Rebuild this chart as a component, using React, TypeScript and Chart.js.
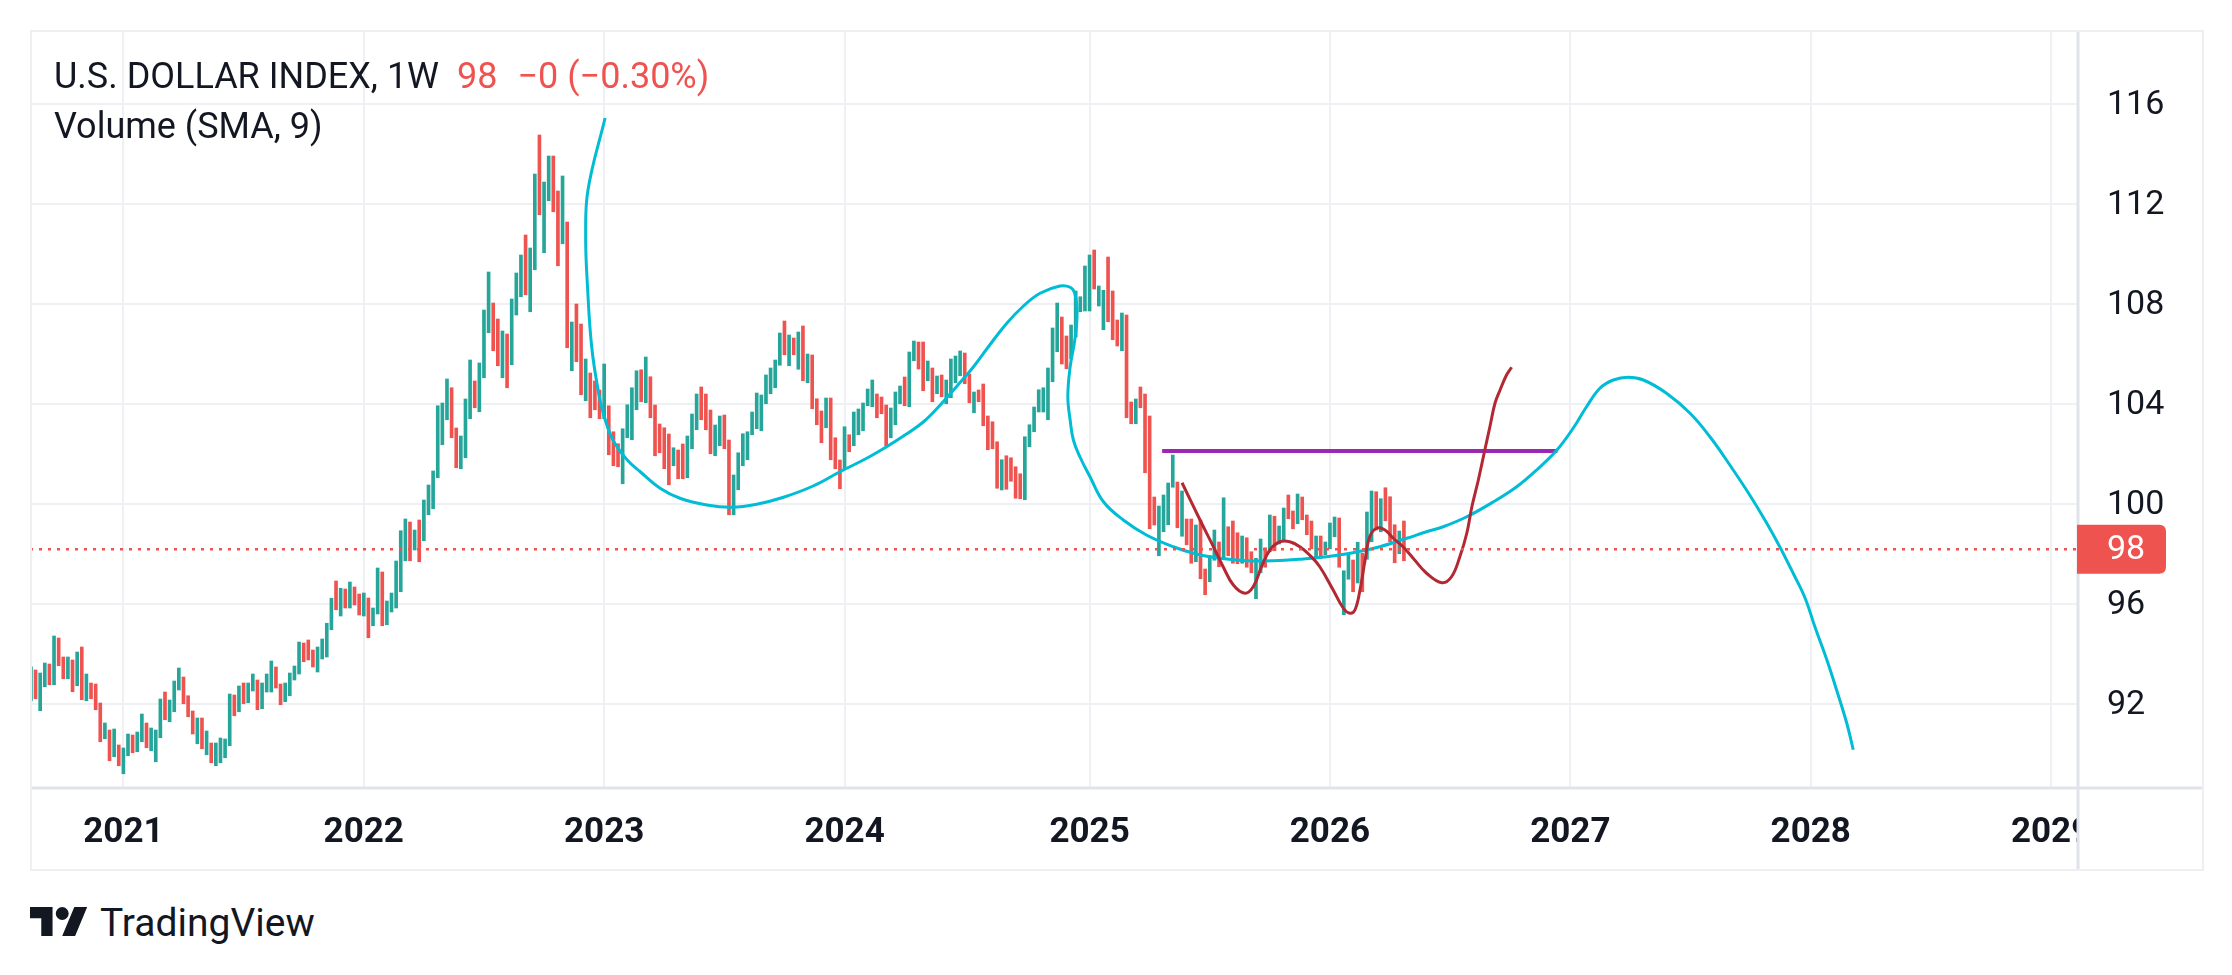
import React, { useEffect, useRef } from "react";
import { Chart, registerables } from "chart.js";

Chart.register(...registerables);

// ---------- DATA ----------
const symbolName = "U.S. DOLLAR INDEX, 1W";
const lastLabel = "98";
const changeLabel = "\u22120 (\u22120.30%)";
const indicatorLabel = "Volume (SMA, 9)";
const lastClose = 98.19;

// x unit: weekly bar index (week 0 = week of 17 Aug 2020)
const yearWeeks = [20, 72, 124, 176, 229, 281, 333, 385, 437];
const yearLabels = ["2021", "2022", "2023", "2024", "2025", "2026", "2027", "2028", "2029"];
const priceTicks = [92, 96, 100, 104, 108, 112, 116];

const weekHigh = [
  93.49, 93.36, 93.24, 93.64, 93.6, 94.72, 94.64, 93.88, 93.88, 93.76,
  94.08, 94.28, 93.2, 92.84, 92.8, 92.04, 91.24, 90.96, 91.0, 90.36,
  90.24, 90.8, 90.76, 90.88, 91.6, 91.24, 91.04, 90.96, 92.2, 92.48,
  92.16, 92.92, 93.44, 93.08, 92.33, 91.72, 91.44, 91.44, 90.92, 90.44,
  90.44, 90.64, 90.6, 92.4, 92.36, 92.72, 92.84, 92.84, 93.2, 92.96,
  92.84, 93.2, 93.72, 93.48, 92.8, 92.84, 93.24, 93.52, 94.48, 94.44,
  94.56, 94.16, 94.28, 94.6, 95.23, 96.23, 96.92, 96.63, 96.6, 96.88,
  96.68, 96.4, 96.44, 96.24, 95.84, 97.44, 97.28, 96.12, 96.44, 97.72,
  98.93, 99.4, 99.28, 98.96, 99.36, 100.16, 100.76, 101.32, 103.93, 104.04,
  105.0, 104.65, 103.04, 102.72, 104.2, 105.76, 104.92, 105.64, 107.76, 109.28,
  108.04, 107.4, 106.92, 106.8, 108.2, 109.24, 109.96, 110.76, 110.24, 113.2,
  114.76, 112.88, 113.92, 113.92, 112.52, 113.12, 111.28, 107.28, 108.0, 107.2,
  105.8, 105.24, 104.92, 104.56, 105.6, 103.93, 102.89, 102.41, 103.01, 103.97,
  104.65, 105.33, 105.37, 105.88, 105.09, 103.96, 103.2, 103.05, 102.8, 102.25,
  102.16, 102.4, 102.72, 103.6, 104.4, 104.68, 104.4, 103.76, 103.16, 103.52,
  103.56, 102.56, 101.16, 102.05, 102.81, 102.89, 103.68, 104.44, 104.36, 105.16,
  105.44, 105.76, 106.84, 107.32, 106.76, 106.64, 106.88, 107.12, 106.0, 105.96,
  104.21, 103.72, 104.24, 104.24, 102.65, 101.76, 103.09, 102.77, 103.68, 103.8,
  104.04, 104.6, 104.96, 104.4, 104.28, 103.96, 103.84, 104.48, 104.72, 105.08,
  106.08, 106.52, 106.48, 106.48, 105.72, 105.44, 105.12, 105.16, 104.96, 105.8,
  105.92, 106.12, 106.04, 105.2, 104.48, 104.56, 104.8, 103.52, 103.29, 102.49,
  101.77, 101.93, 101.85, 101.49, 101.21, 102.69, 103.17, 103.88, 104.57, 104.65,
  105.44, 107.04, 108.04, 107.48, 106.72, 107.16, 108.52, 108.29, 109.52, 109.96,
  110.16, 108.72, 108.55, 109.88, 108.52, 107.36, 107.64, 107.56, 104.08, 104.2,
  104.68, 104.4, 103.52, 100.28, 99.92, 100.36, 100.84, 101.96, 100.88, 100.52,
  99.4, 99.4, 99.16, 99.36, 97.4, 97.93, 98.96, 98.48, 100.25, 99.09,
  99.32, 98.85, 98.72, 98.65, 98.09, 97.83, 98.6, 98.25, 99.56, 99.51,
  99.12, 99.84, 100.36, 99.72, 100.4, 100.28, 99.56, 99.32, 98.72, 98.72,
  98.48, 99.24, 99.48, 99.44, 97.33, 97.99, 97.76, 98.47, 98.03, 99.68,
  100.52, 100.49, 100.21, 100.65, 100.29, 99.17, 98.92, 99.32,
];

const weekLow = [
  92.13, 92.21, 91.73, 92.69, 92.77, 92.77, 93.53, 93.01, 93.01, 92.49,
  92.73, 92.17, 92.13, 92.21, 91.77, 90.49, 90.61, 89.73, 89.89, 89.53,
  89.21, 89.93, 90.05, 90.09, 90.49, 90.25, 90.13, 89.69, 90.65, 91.37,
  91.29, 91.69, 92.56, 92.01, 91.49, 90.8, 90.41, 90.21, 89.97, 89.65,
  89.53, 89.65, 89.85, 90.33, 91.53, 91.69, 92.01, 92.05, 92.52, 91.77,
  91.81, 92.48, 92.48, 92.64, 91.97, 92.09, 92.33, 92.96, 93.2, 93.69,
  93.76, 93.48, 93.28, 93.8, 93.88, 94.97, 95.77, 95.52, 95.84, 95.84,
  95.96, 95.56, 95.52, 94.65, 95.13, 95.6, 95.13, 95.17, 95.68, 95.84,
  96.49, 97.73, 97.73, 98.16, 97.69, 98.53, 99.57, 99.81, 101.05, 102.37,
  103.37, 102.65, 101.45, 101.41, 101.85, 103.41, 103.85, 103.69, 105.05, 106.85,
  106.13, 105.53, 105.05, 104.65, 105.57, 107.56, 108.29, 108.37, 107.69, 109.37,
  111.57, 110.05, 112.13, 111.69, 109.53, 110.41, 106.25, 105.33, 105.69, 104.37,
  104.13, 103.45, 103.77, 103.41, 103.41, 101.97, 101.53, 101.49, 100.81, 102.65,
  102.57, 103.77, 104.09, 104.05, 103.45, 101.93, 102.05, 101.41, 100.77, 101.53,
  101.01, 101.01, 101.05, 102.21, 102.97, 103.37, 102.97, 102.01, 101.93, 102.33,
  102.21, 99.57, 99.57, 100.57, 101.53, 101.77, 102.77, 103.01, 102.93, 104.01,
  104.41, 104.65, 105.55, 105.97, 105.53, 105.97, 105.39, 104.93, 104.85, 103.81,
  103.17, 102.45, 103.05, 101.77, 101.41, 100.61, 101.41, 102.09, 102.33, 102.77,
  102.93, 103.93, 103.89, 103.45, 103.61, 102.33, 102.65, 103.17, 104.01, 103.93,
  103.89, 105.73, 105.4, 104.53, 104.93, 104.09, 104.41, 104.29, 104.01, 104.25,
  104.85, 105.13, 104.81, 104.05, 103.65, 104.09, 103.13, 102.17, 102.21, 100.63,
  100.56, 100.59, 100.91, 100.23, 100.21, 100.17, 102.29, 102.89, 103.68, 103.68,
  103.37, 104.89, 106.09, 105.6, 105.41, 105.81, 106.68, 107.69, 107.72, 107.72,
  108.6, 107.92, 106.97, 107.29, 106.57, 106.32, 106.13, 103.45, 103.21, 103.21,
  103.85, 101.25, 99.01, 99.16, 97.93, 98.89, 99.17, 100.67, 99.05, 98.71,
  98.37, 97.63, 97.69, 97.01, 96.37, 96.89, 97.75, 97.49, 97.84, 97.93,
  97.63, 97.61, 97.63, 97.47, 97.25, 96.21, 97.25, 97.47, 98.09, 98.13,
  98.4, 98.51, 99.41, 99.01, 99.21, 99.37, 98.77, 98.21, 97.85, 97.83,
  97.97, 98.21, 98.69, 97.47, 95.57, 96.99, 96.49, 96.84, 96.49, 97.79,
  98.49, 98.96, 98.89, 99.33, 98.49, 97.65, 98.01, 97.73,
];

// 1 = close above open (teal), 0 = close below open (red)
const weekUp = [
  1, 0, 1, 1, 0, 1, 0, 0, 1, 0,
  1, 0, 1, 0, 0, 0, 1, 0, 1, 0,
  1, 1, 0, 1, 1, 0, 1, 1, 1, 0,
  1, 1, 1, 0, 0, 0, 1, 0, 1, 0,
  1, 1, 1, 1, 0, 1, 0, 1, 1, 0,
  1, 1, 1, 0, 0, 1, 1, 1, 1, 0,
  0, 0, 1, 1, 1, 1, 0, 1, 0, 1,
  0, 0, 1, 0, 1, 1, 0, 1, 1, 1,
  1, 1, 0, 1, 0, 1, 1, 1, 1, 1,
  1, 0, 0, 1, 1, 1, 0, 1, 1, 1,
  0, 0, 1, 0, 1, 1, 1, 0, 1, 1,
  0, 1, 1, 0, 0, 1, 0, 1, 0, 0,
  1, 0, 0, 0, 1, 0, 0, 0, 1, 1,
  1, 1, 0, 1, 0, 0, 0, 0, 0, 1,
  0, 0, 1, 1, 1, 0, 0, 0, 1, 1,
  0, 0, 1, 1, 1, 1, 1, 1, 1, 1,
  1, 1, 1, 0, 1, 0, 1, 0, 1, 0,
  0, 0, 1, 0, 0, 0, 1, 0, 1, 1,
  1, 1, 1, 0, 0, 0, 1, 1, 1, 0,
  1, 1, 0, 0, 1, 0, 1, 0, 1, 1,
  1, 1, 0, 0, 1, 0, 0, 0, 0, 0,
  1, 0, 0, 0, 0, 1, 1, 1, 1, 1,
  1, 1, 1, 0, 0, 1, 1, 1, 1, 1,
  0, 1, 1, 0, 0, 0, 1, 0, 0, 1,
  0, 0, 0, 0, 1, 1, 1, 1, 0, 1,
  0, 0, 1, 0, 0, 1, 1, 0, 1, 0,
  0, 0, 1, 0, 0, 1, 1, 0, 1, 0,
  1, 1, 0, 0, 1, 0, 0, 0, 1, 0,
  1, 1, 1, 0, 1, 1, 0, 1, 0, 1,
  1, 0, 1, 0, 0, 0, 1, 0,
];

// Drawn cyan curve (week index, price)
const cyanWeek = [
  124.2, 120.5, 120.0, 120.4, 121.3, 122.8, 123.8, 125.9, 129.0, 131.8,
  136.1, 140.4, 146.2, 151.6, 157.0, 162.8, 169.2, 175.0, 180.8, 185.1,
  189.4, 193.1, 196.7, 200.2, 203.9, 207.4, 211.1, 214.7, 218.3, 222.6,
  224.8, 225.8, 226.3, 225.8, 224.8, 224.3, 224.8, 225.5, 226.9, 229.1,
  232.0, 236.3, 241.3, 247.1, 252.1, 257.2, 262.9, 268.8, 274.5, 280.3,
  286.0, 291.8, 297.6, 301.9, 305.5, 310.6, 316.4, 321.4, 325.7, 330.1,
  333.6, 336.5, 339.4, 342.3, 345.5, 348.8, 353.8, 358.9, 363.2, 367.5,
  371.8, 375.5, 378.3, 381.2, 383.8, 385.9, 388.5, 390.6, 392.8, 394.2,
];
const cyanPrice = [
  115.44, 112.56, 110.69, 108.69, 106.29, 104.44, 103.64, 102.56, 101.76, 101.29,
  100.63, 100.23, 99.96, 99.87, 99.99, 100.27, 100.72, 101.29, 101.83, 102.29,
  102.8, 103.29, 103.96, 104.69, 105.49, 106.36, 107.23, 107.92, 108.43, 108.72,
  108.67, 108.43, 107.63, 106.56, 105.49, 104.29, 103.36, 102.56, 101.89, 101.09,
  100.09, 99.36, 98.76, 98.29, 98.0, 97.83, 97.73, 97.73, 97.79, 97.89,
  98.05, 98.29, 98.63, 98.89, 99.09, 99.49, 100.09, 100.69, 101.36, 102.16,
  103.03, 103.89, 104.63, 104.96, 105.07, 104.96, 104.43, 103.63, 102.69, 101.56,
  100.36, 99.23, 98.29, 97.23, 96.23, 95.09, 93.76, 92.56, 91.23, 90.17,
];

// Drawn dark-red curve
const redWeek = [
  249.0, 252.9, 255.8, 257.9, 260.1, 262.6, 264.4, 266.2, 268.0, 270.2,
  272.3, 274.5, 276.6, 278.8, 281.7, 283.9, 285.3, 286.4, 287.5, 288.6,
  289.6, 291.1, 292.9, 294.7, 296.8, 299.0, 301.9, 305.2, 307.3, 309.1,
  310.6, 311.7, 313.1, 314.5, 315.6, 316.7, 317.8, 319.2, 320.3,
];
const redPrice = [
  100.85, 99.36, 98.29, 97.49, 96.76, 96.43, 96.69, 97.49, 98.16, 98.49,
  98.49, 98.29, 97.96, 97.49, 96.56, 95.83, 95.63, 95.76, 96.56, 97.76,
  98.69, 99.03, 98.96, 98.63, 98.29, 97.83, 97.23, 96.85, 97.09, 97.89,
  98.83, 99.89, 100.96, 102.16, 103.09, 104.03, 104.56, 105.16, 105.47,
];

// Drawn purple horizontal level
const purpleWeek = [244.7, 330.2];
const purplePrice = [102.12, 102.12];

// ---------- STYLE ----------
const UP = "#26a69a";
const DOWN = "#ef5350";
const TEXT = "#131722";
const GRID = "#eff0f3";
const SEP = "#e0e3eb";
const FONT = "Roboto, 'Noto Sans', sans-serif";

const framePlugin = {
  id: "tvFrame",
  afterDatasetsDraw(chart: any) {
    const { ctx, chartArea, scales } = chart;
    const y = scales.y.getPixelForValue(lastClose);
    ctx.save();
    ctx.beginPath();
    ctx.rect(chartArea.left, chartArea.top, chartArea.right - chartArea.left, chartArea.bottom - chartArea.top);
    ctx.clip();
    ctx.strokeStyle = DOWN;
    ctx.lineWidth = 2.6;
    ctx.setLineDash([3, 6]);
    ctx.beginPath();
    ctx.moveTo(chartArea.left, y);
    ctx.lineTo(chartArea.right, y);
    ctx.stroke();
    ctx.restore();
  },
  afterDraw(chart: any) {
    const { ctx, chartArea, width, height, scales } = chart;
    ctx.save();
    // empty corner under the price scale (clips the last year label)
    ctx.fillStyle = "#ffffff";
    ctx.fillRect(chartArea.right, chartArea.bottom, width - chartArea.right, height - chartArea.bottom);
    // separators
    ctx.strokeStyle = SEP;
    ctx.lineWidth = 3;
    ctx.beginPath();
    ctx.moveTo(0, chartArea.bottom + 1);
    ctx.lineTo(width, chartArea.bottom + 1);
    ctx.moveTo(chartArea.right + 1, 0);
    ctx.lineTo(chartArea.right + 1, height);
    ctx.stroke();
    // outer frame
    ctx.strokeStyle = "#eeeff3";
    ctx.lineWidth = 2;
    ctx.strokeRect(1, 1, width - 2, height - 2);
    // last price badge
    const y = scales.y.getPixelForValue(lastClose);
    const x0 = chartArea.right;
    const x1 = chartArea.right + 89;
    const h = 49;
    const r = 7;
    ctx.fillStyle = DOWN;
    ctx.beginPath();
    ctx.moveTo(x0, y - h / 2);
    ctx.lineTo(x1 - r, y - h / 2);
    ctx.quadraticCurveTo(x1, y - h / 2, x1, y - h / 2 + r);
    ctx.lineTo(x1, y + h / 2 - r);
    ctx.quadraticCurveTo(x1, y + h / 2, x1 - r, y + h / 2);
    ctx.lineTo(x0, y + h / 2);
    ctx.closePath();
    ctx.fill();
    ctx.fillStyle = "#ffffff";
    ctx.font = `34px ${FONT}`;
    ctx.textAlign = "left";
    ctx.textBaseline = "middle";
    ctx.fillText(lastClose.toFixed(0), chartArea.right + 30, y + 1);
    ctx.restore();
  },
};

export default function App() {
  const ref = useRef<HTMLCanvasElement | null>(null);

  useEffect(() => {
    if (!ref.current) return;
    const bars = weekHigh.map((h, i) => ({ x: i, y: [weekLow[i], h] }));
    const barColors = weekUp.map((u) => (u ? UP : DOWN));
    const cyan = cyanWeek.map((w, i) => ({ x: w, y: cyanPrice[i] }));
    const red = redWeek.map((w, i) => ({ x: w, y: redPrice[i] }));
    const purple = purpleWeek.map((w, i) => ({ x: w, y: purplePrice[i] }));

    const chart = new Chart(ref.current, {
      type: "bar",
      data: {
        datasets: [
          {
            type: "bar",
            data: bars as any,
            backgroundColor: barColors,
            borderWidth: 0,
            barThickness: 3,
            order: 10,
          } as any,
          {
            type: "line",
            data: purple as any,
            borderColor: "#9c27b0",
            borderWidth: 4,
            pointRadius: 0,
            tension: 0,
            order: 3,
          } as any,
          {
            type: "line",
            data: cyan as any,
            borderColor: "#00bcd4",
            borderWidth: 3,
            pointRadius: 0,
            tension: 0.4,
            order: 2,
          } as any,
          {
            type: "line",
            data: red as any,
            borderColor: "#b22833",
            borderWidth: 3,
            pointRadius: 0,
            tension: 0.4,
            order: 1,
          } as any,
        ],
      },
      options: {
        animation: false,
        responsive: false,
        devicePixelRatio: 1,
        layout: { padding: 0 },
        plugins: {
          legend: { display: false },
          title: { display: false },
          tooltip: { enabled: false },
        },
        scales: {
          x: {
            type: "linear",
            min: -0.2,
            max: 442.6,
            offset: false,
            afterBuildTicks: (s: any) => {
              s.ticks = yearWeeks.map((v) => ({ value: v }));
            },
            afterFit: (s: any) => {
              s.height = 84;
              s.paddingLeft = 0;
              s.paddingRight = 0;
            },
            grid: { color: GRID, lineWidth: 2, drawTicks: false, offset: false },
            border: { display: false },
            ticks: {
              autoSkip: false,
              maxRotation: 0,
              minRotation: 0,
              padding: 25,
              color: TEXT,
              font: { family: FONT, size: 35, weight: "bold" },
              callback: (_v: any, i: number) => yearLabels[i],
            },
          },
          y: {
            type: "linear",
            position: "right",
            min: 88.68,
            max: 118.96,
            afterBuildTicks: (s: any) => {
              s.ticks = priceTicks.map((v) => ({ value: v }));
            },
            afterFit: (s: any) => {
              s.width = 127;
              s.paddingTop = 0;
              s.paddingBottom = 0;
            },
            grid: { color: GRID, lineWidth: 2, drawTicks: false },
            border: { display: false },
            ticks: {
              padding: 30,
              color: TEXT,
              font: { family: FONT, size: 34 },
              labelOffset: 1,
              callback: (v: any) => String(v),
            },
          },
        },
      } as any,
      plugins: [framePlugin],
    });
    return () => chart.destroy();
  }, []);

  return (
    <div
      style={{
        position: "absolute",
        left: 0,
        top: 0,
        width: 2232,
        height: 975,
        background: "#ffffff",
        fontFamily: FONT,
        color: TEXT,
        overflow: "hidden",
      }}
    >
      <canvas
        ref={ref}
        width={2174}
        height={841}
        style={{ position: "absolute", left: 30, top: 30, width: 2174, height: 841 }}
      />
      <div
        style={{
          position: "absolute",
          left: 54,
          top: 56,
          fontSize: 36,
          lineHeight: "41px",
          whiteSpace: "nowrap",
        }}
      >
        {symbolName}
        <span style={{ color: DOWN, marginLeft: 18 }}>{lastLabel}</span>
        <span style={{ color: DOWN, marginLeft: 20 }}>{changeLabel}</span>
      </div>
      <div
        style={{
          position: "absolute",
          left: 54,
          top: 106,
          fontSize: 36,
          lineHeight: "41px",
          whiteSpace: "nowrap",
        }}
      >
        {indicatorLabel}
      </div>
      <svg
        width={58}
        height={29}
        viewBox="0 4 36 18"
        style={{ position: "absolute", left: 30, top: 907 }}
      >
        <path d="M14 22H7V11H0V4h14v18zM28 22h-8l7.5-18h8L28 22z" fill={TEXT} />
        <circle cx={20} cy={8} r={4} fill={TEXT} />
      </svg>
      <div
        style={{
          position: "absolute",
          left: 100,
          top: 901,
          fontSize: 39,
          lineHeight: "45px",
          whiteSpace: "nowrap",
          color: TEXT,
        }}
      >
        TradingView
      </div>
    </div>
  );
}
